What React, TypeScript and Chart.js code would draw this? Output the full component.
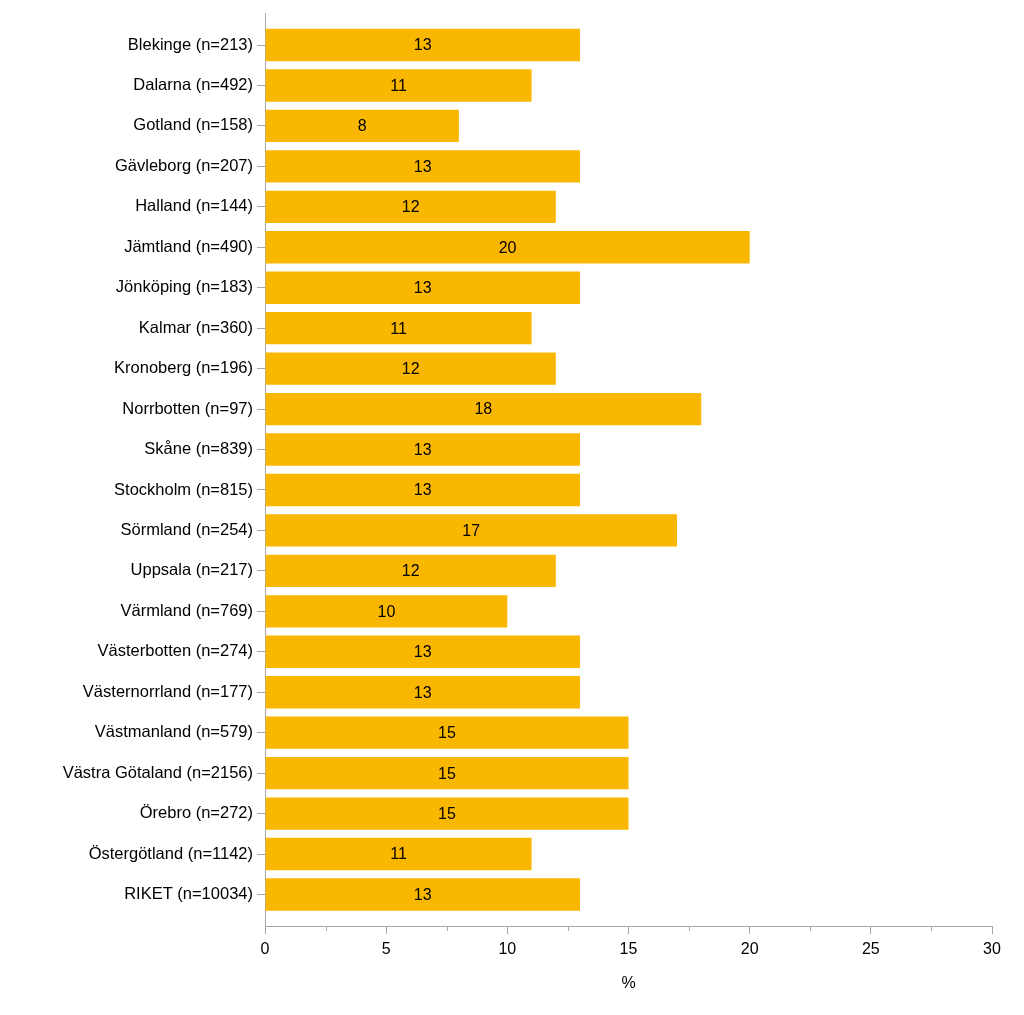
import { useEffect, useRef } from "react";
import { Chart, registerables } from "chart.js";

Chart.register(...registerables);

const categories = [
  "Blekinge (n=213)",
  "Dalarna (n=492)",
  "Gotland (n=158)",
  "Gävleborg (n=207)",
  "Halland (n=144)",
  "Jämtland (n=490)",
  "Jönköping (n=183)",
  "Kalmar (n=360)",
  "Kronoberg (n=196)",
  "Norrbotten (n=97)",
  "Skåne (n=839)",
  "Stockholm (n=815)",
  "Sörmland (n=254)",
  "Uppsala (n=217)",
  "Värmland (n=769)",
  "Västerbotten (n=274)",
  "Västernorrland (n=177)",
  "Västmanland (n=579)",
  "Västra Götaland (n=2156)",
  "Örebro (n=272)",
  "Östergötland (n=1142)",
  "RIKET (n=10034)",
];

const values = [13, 11, 8, 13, 12, 20, 13, 11, 12, 18, 13, 13, 17, 12, 10, 13, 13, 15, 15, 15, 11, 13];

const xMin = 0;
const xMax = 30;
const xMajorStep = 5;
const xMinorTicks = [2.5, 7.5, 12.5, 17.5, 22.5, 27.5];
const xTitle = "%";

const BAR_COLOR = "rgb(250,183,0)";
const AXIS_COLOR = "#a6a6a6";
const FONT = "'Liberation Sans', Arial, sans-serif";

export default function App() {
  const ref = useRef<HTMLCanvasElement | null>(null);

  useEffect(() => {
    if (!ref.current) return;

    const valueLabels = {
      id: "valueLabels",
      afterDatasetsDraw(chart: any) {
        const ctx = chart.ctx;
        const meta = chart.getDatasetMeta(0);
        ctx.save();
        ctx.font = `16px ${FONT}`;
        ctx.fillStyle = "#000";
        ctx.textAlign = "center";
        ctx.textBaseline = "middle";
        meta.data.forEach((bar: any, i: number) => {
          const cx = (bar.x + bar.base) / 2;
          ctx.fillText(String(values[i]), cx, bar.y + 1);
        });
        ctx.restore();
      },
    };

    const minorTicks = {
      id: "minorTicks",
      afterDraw(chart: any) {
        const ctx = chart.ctx;
        const xs = chart.scales.x;
        const yb = chart.chartArea.bottom;
        ctx.save();
        ctx.strokeStyle = AXIS_COLOR;
        ctx.lineWidth = 1;
        xMinorTicks.forEach((v) => {
          const px = Math.round(xs.getPixelForValue(v)) + 0.5;
          ctx.beginPath();
          ctx.moveTo(px, yb);
          ctx.lineTo(px, yb + 5);
          ctx.stroke();
        });
        ctx.restore();
      },
    };

    const chart = new Chart(ref.current, {
      type: "bar",
      data: {
        datasets: [
          {
            data: values.map((v, i) => ({ x: v, y: i })),
            backgroundColor: BAR_COLOR,
            borderWidth: 0,
            barPercentage: 0.8,
            categoryPercentage: 1,
          },
        ],
      },
      options: {
        indexAxis: "y",
        responsive: false,
        animation: false,
        events: [],
        layout: { padding: { top: 12, right: 32, bottom: 0, left: 0 } },
        plugins: {
          legend: { display: false },
          tooltip: { enabled: false },
        },
        scales: {
          x: {
            type: "linear",
            position: "bottom",
            min: xMin,
            max: xMax,
            ticks: {
              stepSize: xMajorStep,
              color: "#000",
              font: { family: FONT, size: 16 },
              padding: 6,
            },
            grid: {
              drawOnChartArea: false,
              drawTicks: true,
              tickLength: 8,
              color: AXIS_COLOR,
            },
            border: { display: true, color: AXIS_COLOR, width: 1 },
            title: {
              display: true,
              text: xTitle,
              color: "#000",
              font: { family: FONT, size: 16 },
              padding: { top: 0, bottom: 22 },
            },
            afterFit: (scale: any) => {
              scale.height = 89;
            },
          },
          y: {
            type: "linear",
            position: "left",
            reverse: true,
            offset: false,
            min: -0.77,
            max: 21.78,
            afterBuildTicks: (scale: any) => {
              scale.ticks = categories.map((_, i) => ({ value: i }));
            },
            ticks: {
              stepSize: 1,
              autoSkip: false,
              color: "#000",
              font: { family: FONT, size: 16.5 },
              padding: 4,
              callback: (v: any) => categories[v] ?? "",
            },
            grid: {
              offset: false,
              drawOnChartArea: false,
              drawTicks: true,
              tickLength: 8,
              color: AXIS_COLOR,
            },
            border: { display: true, color: AXIS_COLOR, width: 1 },
            afterFit: (scale: any) => {
              scale.width = 265;
            },
          },
        },
      },
      plugins: [valueLabels, minorTicks],
    });

    return () => chart.destroy();
  }, []);

  return (
    <div style={{ position: "absolute", left: 0, top: 0, width: 1024, height: 1015, background: "#fff" }}>
      <canvas ref={ref} width={1024} height={1015} />
    </div>
  );
}
